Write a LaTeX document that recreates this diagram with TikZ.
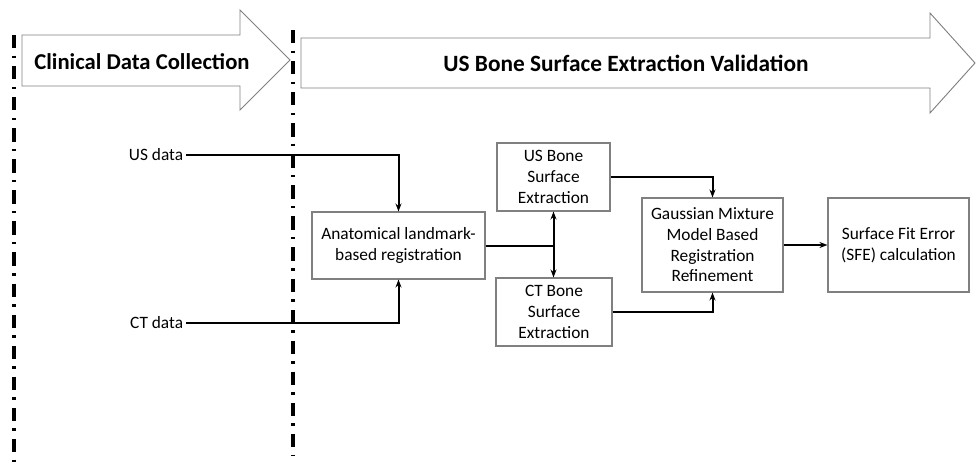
\documentclass[tikz,border=0pt]{standalone}
\usepackage{fontspec}
\setmainfont{Carlito}
\usepackage{tikz}
\usetikzlibrary{calc, positioning, arrows.meta}
\definecolor{frameGray}{RGB}{128, 128, 128}

\begin{document}
\begin{tikzpicture}[>={Stealth[length=6pt, width=4.5pt]}, x=0.75pt, y=-0.75pt,
  font=\fontsize{13}{15.5}\selectfont,
  stagebox/.style={draw=frameGray, line width=0.8pt, fill=white, align=center, inner sep=0pt},
  conn/.style={line width=1.5pt, line join=miter},
  phase/.style={draw=frameGray, line width=0.7pt, fill=white},
  divider/.style={line width=2.4pt, dash pattern=on 10pt off 5.5pt on 1.8pt off 6pt}]
  \useasboundingbox (0,0) rectangle (976,467);

  % Phase arrows
  \draw[phase] (22,35) -- (240,35) -- (240,10) -- (290,60) -- (240,110) -- (240,86) -- (22,86) -- cycle;
  \draw[phase] (301,38) -- (930,38) -- (930,13) -- (975,63) -- (930,113) -- (930,88) -- (301,88) -- cycle;
  \node[font=\fontsize{17}{19}\selectfont\bfseries] (collect) at (142,62) {Clinical Data Collection};
  \node[font=\fontsize{17.5}{19}\selectfont\bfseries] (validate) at (626,63) {US Bone Surface Extraction Validation};

  % Dividers
  \draw[divider] (14,35) -- (14,467);
  \draw[divider] (293,30) -- (293,455);

  % Inputs
  \node[anchor=east, inner sep=2pt] (usdata) at (186,155) {US data};
  \node[anchor=east, inner sep=2pt] (ctdata) at (186,323) {CT data};

  % Blocks
  \node[stagebox, minimum width=173*0.75pt, minimum height=67*0.75pt] (anat) at (398.5,245.5)
    {Anatomical landmark-\\based registration};
  \node[stagebox, minimum width=113*0.75pt, minimum height=68*0.75pt] (usbone) at (553.5,177)
    {US Bone\\Surface\\Extraction};
  \node[stagebox, minimum width=116*0.75pt, minimum height=68*0.75pt] (ctbone) at (554,312)
    {CT Bone\\Surface\\Extraction};
  \node[stagebox, minimum width=141*0.75pt, minimum height=94*0.75pt] (gmm) at (712.5,245)
    {Gaussian Mixture\\Model Based\\Registration\\Refinement};
  \node[stagebox, minimum width=141*0.75pt, minimum height=94*0.75pt] (sfe) at (898.5,245)
    {Surface Fit Error\\(SFE) calculation};

  \coordinate (split) at (553.5,245.5);

  % Connectors
  \draw[conn, ->] (usdata) -| (anat);
  \draw[conn, ->] (ctdata) -| (anat);
  \draw[conn] (anat) -- (split);
  \draw[conn, ->] (split) -- (usbone);
  \draw[conn, ->] (split) -- (ctbone.north -| split);
  \draw[conn, ->] (usbone) -| (gmm);
  \draw[conn, ->] (ctbone) -| (gmm);
  \draw[conn, ->] (gmm) -- (sfe);
\end{tikzpicture}
\end{document}
